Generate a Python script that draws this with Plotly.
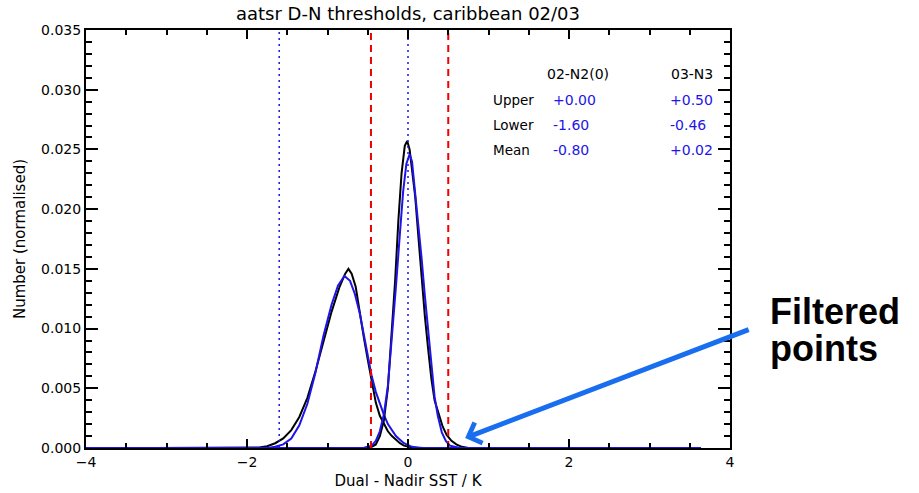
import plotly.graph_objects as go

# ---- histogram curves: dual minus nadir SST difference (K) vs normalised number ----
# 02-N2(0) differences, black histogram
d2_black_x = [-3.15, -2.00, -1.85, -1.75, -1.65, -1.55, -1.45, -1.35, -1.25, -1.15,
              -1.05, -0.95, -0.85, -0.78, -0.74, -0.70, -0.65, -0.60, -0.55, -0.50,
              -0.45, -0.40, -0.35, -0.30, -0.25, -0.20, -0.15, -0.10, -0.05, 0.05,
              0.20, 1.80]
d2_black_y = [0.0, 0.0, 0.00005, 0.00015, 0.0004, 0.0008, 0.0015, 0.0026, 0.0042, 0.0064,
              0.0089, 0.0114, 0.0135, 0.0146, 0.0150, 0.0146, 0.0135, 0.0112, 0.0093, 0.0074,
              0.0055, 0.0038, 0.0027, 0.0020, 0.0014, 0.0010, 0.0007, 0.0004, 0.0002, 0.00005,
              0.0, 0.0]

# 02-N2(0) differences, blue histogram
d2_blue_x = [-4.00, -1.75, -1.65, -1.55, -1.45, -1.35, -1.25, -1.15, -1.05, -0.95,
             -0.87, -0.79, -0.72, -0.66, -0.60, -0.55, -0.50, -0.45, -0.40, -0.35,
             -0.30, -0.25, -0.20, -0.15, -0.10, -0.05, 0.05, 0.15, 2.75]
d2_blue_y = [0.0, 0.0, 0.0001, 0.0003, 0.0008, 0.0019, 0.0037, 0.0063, 0.0094, 0.0120,
             0.0136, 0.0144, 0.0140, 0.0129, 0.0113, 0.0096, 0.0078, 0.0060, 0.0047, 0.0037,
             0.0028, 0.0020, 0.0015, 0.0010, 0.0007, 0.0004, 0.0001, 0.0, 0.0]

# 03-N3 differences, black histogram
d3_black_x = [-1.00, -0.55, -0.45, -0.40, -0.35, -0.30, -0.25, -0.20, -0.16, -0.12,
              -0.08, -0.04, -0.01, 0.02, 0.05, 0.09, 0.13, 0.17, 0.21, 0.25,
              0.29, 0.33, 0.38, 0.43, 0.48, 0.54, 0.60, 0.67, 0.75, 1.80]
d3_black_y = [0.0, 0.0, 0.0001, 0.0003, 0.0010, 0.0023, 0.0050, 0.0096, 0.0140, 0.0190,
              0.0230, 0.0253, 0.0257, 0.0250, 0.0234, 0.0210, 0.0176, 0.0140, 0.0110, 0.0083,
              0.0058, 0.0040, 0.0028, 0.0018, 0.0011, 0.0006, 0.0003, 0.0001, 0.0, 0.0]

# 03-N3 differences, blue histogram
d3_blue_x = [-3.10, -0.55, -0.45, -0.40, -0.35, -0.30, -0.25, -0.20, -0.15, -0.10,
             -0.06, -0.02, 0.02, 0.05, 0.09, 0.13, 0.17, 0.21, 0.25, 0.29,
             0.33, 0.37, 0.42, 0.47, 0.52, 0.58, 0.65, 3.64]
d3_blue_y = [0.0, 0.0, 0.0002, 0.0006, 0.0014, 0.0028, 0.0052, 0.0090, 0.0135, 0.0180,
             0.0215, 0.0238, 0.0246, 0.0240, 0.0214, 0.0183, 0.0158, 0.0127, 0.0097, 0.0066,
             0.0043, 0.0027, 0.0013, 0.0006, 0.0002, 0.0001, 0.0, 0.0]

# ---- thresholds table ----
thr_columns = ["02-N2(0)", "03-N3"]
thr_rows = ["Upper", "Lower", "Mean"]
thr_upper = [0.00, 0.50]
thr_lower = [-1.60, -0.46]
thr_mean = [-0.80, 0.02]

x_range = [-4, 4]
x_tick_step = 2
x_minor_step = 0.5
y_range = [0, 0.035]
y_tick_step = 0.005
y_minor_step = 0.001

BLACK = "black"
BLUE = "rgb(30,20,232)"
RED = "rgb(240,0,0)"
ARROW = "rgb(25,110,240)"
FONT = "DejaVu Sans"

W, H = 919, 493
ML, MR, MT, MB = 86, 189, 30, 45


def px(x):
    return (x - ML) / (W - ML - MR)


def py(y):
    return (H - MB - y) / (H - MT - MB)


fig = go.Figure()

for xs, ys, col in [(d2_black_x, d2_black_y, BLACK), (d2_blue_x, d2_blue_y, BLUE),
                    (d3_black_x, d3_black_y, BLACK), (d3_blue_x, d3_blue_y, BLUE)]:
    fig.add_trace(go.Scatter(x=xs, y=ys, mode="lines",
                             line=dict(color=col, width=2), showlegend=False))

# 02-N2(0) limits: blue dotted; 03-N3 limits: red dashed
for v in [thr_upper[0], thr_lower[0]]:
    fig.add_trace(go.Scatter(x=[v, v], y=y_range, mode="lines",
                             line=dict(color=BLUE, width=1.5, dash="2px,4px"),
                             showlegend=False))
for v in [thr_upper[1], thr_lower[1]]:
    fig.add_trace(go.Scatter(x=[v, v], y=y_range, mode="lines",
                             line=dict(color=RED, width=2, dash="7px,5px"),
                             showlegend=False))

annotations = []
col_centres = [578, 692]
col_lefts = [551, 668]
row_y = [100, 125, 150]
for name, cx in zip(thr_columns, col_centres):
    annotations.append(dict(x=px(cx), y=py(74), xref="paper", yref="paper",
                            text=name, showarrow=False, xanchor="center", yanchor="middle",
                            font=dict(family=FONT, size=14, color=BLACK)))
for name, ry in zip(thr_rows, row_y):
    annotations.append(dict(x=px(491), y=py(ry), xref="paper", yref="paper",
                            text=name, showarrow=False, xanchor="left", yanchor="middle",
                            font=dict(family=FONT, size=13.5, color=BLACK)))
for ci, lx in enumerate(col_lefts):
    for vals, ry in zip([thr_upper, thr_lower, thr_mean], row_y):
        annotations.append(dict(x=px(lx), y=py(ry), xref="paper", yref="paper",
                                text=f"{vals[ci]:+.2f}", showarrow=False,
                                xanchor="left", yanchor="middle",
                                font=dict(family=FONT, size=14, color=BLUE)))

# callout text and arrow
annotations.append(dict(x=px(768), y=py(311), xref="paper", yref="paper",
                        text="<b>Filtered</b>", showarrow=False, xanchor="left",
                        yanchor="middle",
                        font=dict(family="Liberation Sans", size=36, color=BLACK)))
annotations.append(dict(x=px(768), y=py(348), xref="paper", yref="paper",
                        text="<b>points</b>", showarrow=False, xanchor="left",
                        yanchor="middle",
                        font=dict(family="Liberation Sans", size=36, color=BLACK)))
annotations.append(dict(x=0.71, y=0.00084, xref="x", yref="y", text="",
                        showarrow=True, arrowhead=4, arrowsize=0.85, arrowwidth=5,
                        arrowcolor=ARROW, ax=285, ay=-109, axref="pixel", ayref="pixel"))

fig.update_layout(
    width=W, height=H,
    margin=dict(l=ML, r=MR, t=MT, b=MB),
    plot_bgcolor="white",
    title=dict(text="aatsr D-N thresholds, caribbean 02/03", x=px(408), xref="paper",
               y=1 - 14 / H, yref="container", xanchor="center", yanchor="middle",
               font=dict(family=FONT, size=18, color=BLACK)),
    xaxis=dict(range=x_range, dtick=x_tick_step,
               ticks="inside", ticklen=9, tickwidth=2, tickcolor="black",
               showline=True, linecolor="black", linewidth=2, mirror="allticks",
               gridcolor="white", zerolinecolor="white", automargin=False,
               minor=dict(dtick=x_minor_step, ticks="inside", ticklen=5,
                          tickcolor="black", tickwidth=2),
               tickfont=dict(family=FONT, size=14, color=BLACK),
               title=dict(text="Dual - Nadir SST / K", standoff=7,
                          font=dict(family=FONT, size=15, color=BLACK))),
    yaxis=dict(range=y_range, dtick=y_tick_step, tickformat=".3f",
               ticks="inside", ticklen=12, tickwidth=2, tickcolor="black",
               showline=True, linecolor="black", linewidth=2, mirror="allticks",
               gridcolor="white", zerolinecolor="white", automargin=False,
               minor=dict(dtick=y_minor_step, ticks="inside", ticklen=6,
                          tickcolor="black", tickwidth=2),
               tickfont=dict(family=FONT, size=14, color=BLACK),
               title=dict(text="Number (normalised)", standoff=12,
                          font=dict(family=FONT, size=15, color=BLACK))),
    annotations=annotations,
)

fig.write_html("out.html")
